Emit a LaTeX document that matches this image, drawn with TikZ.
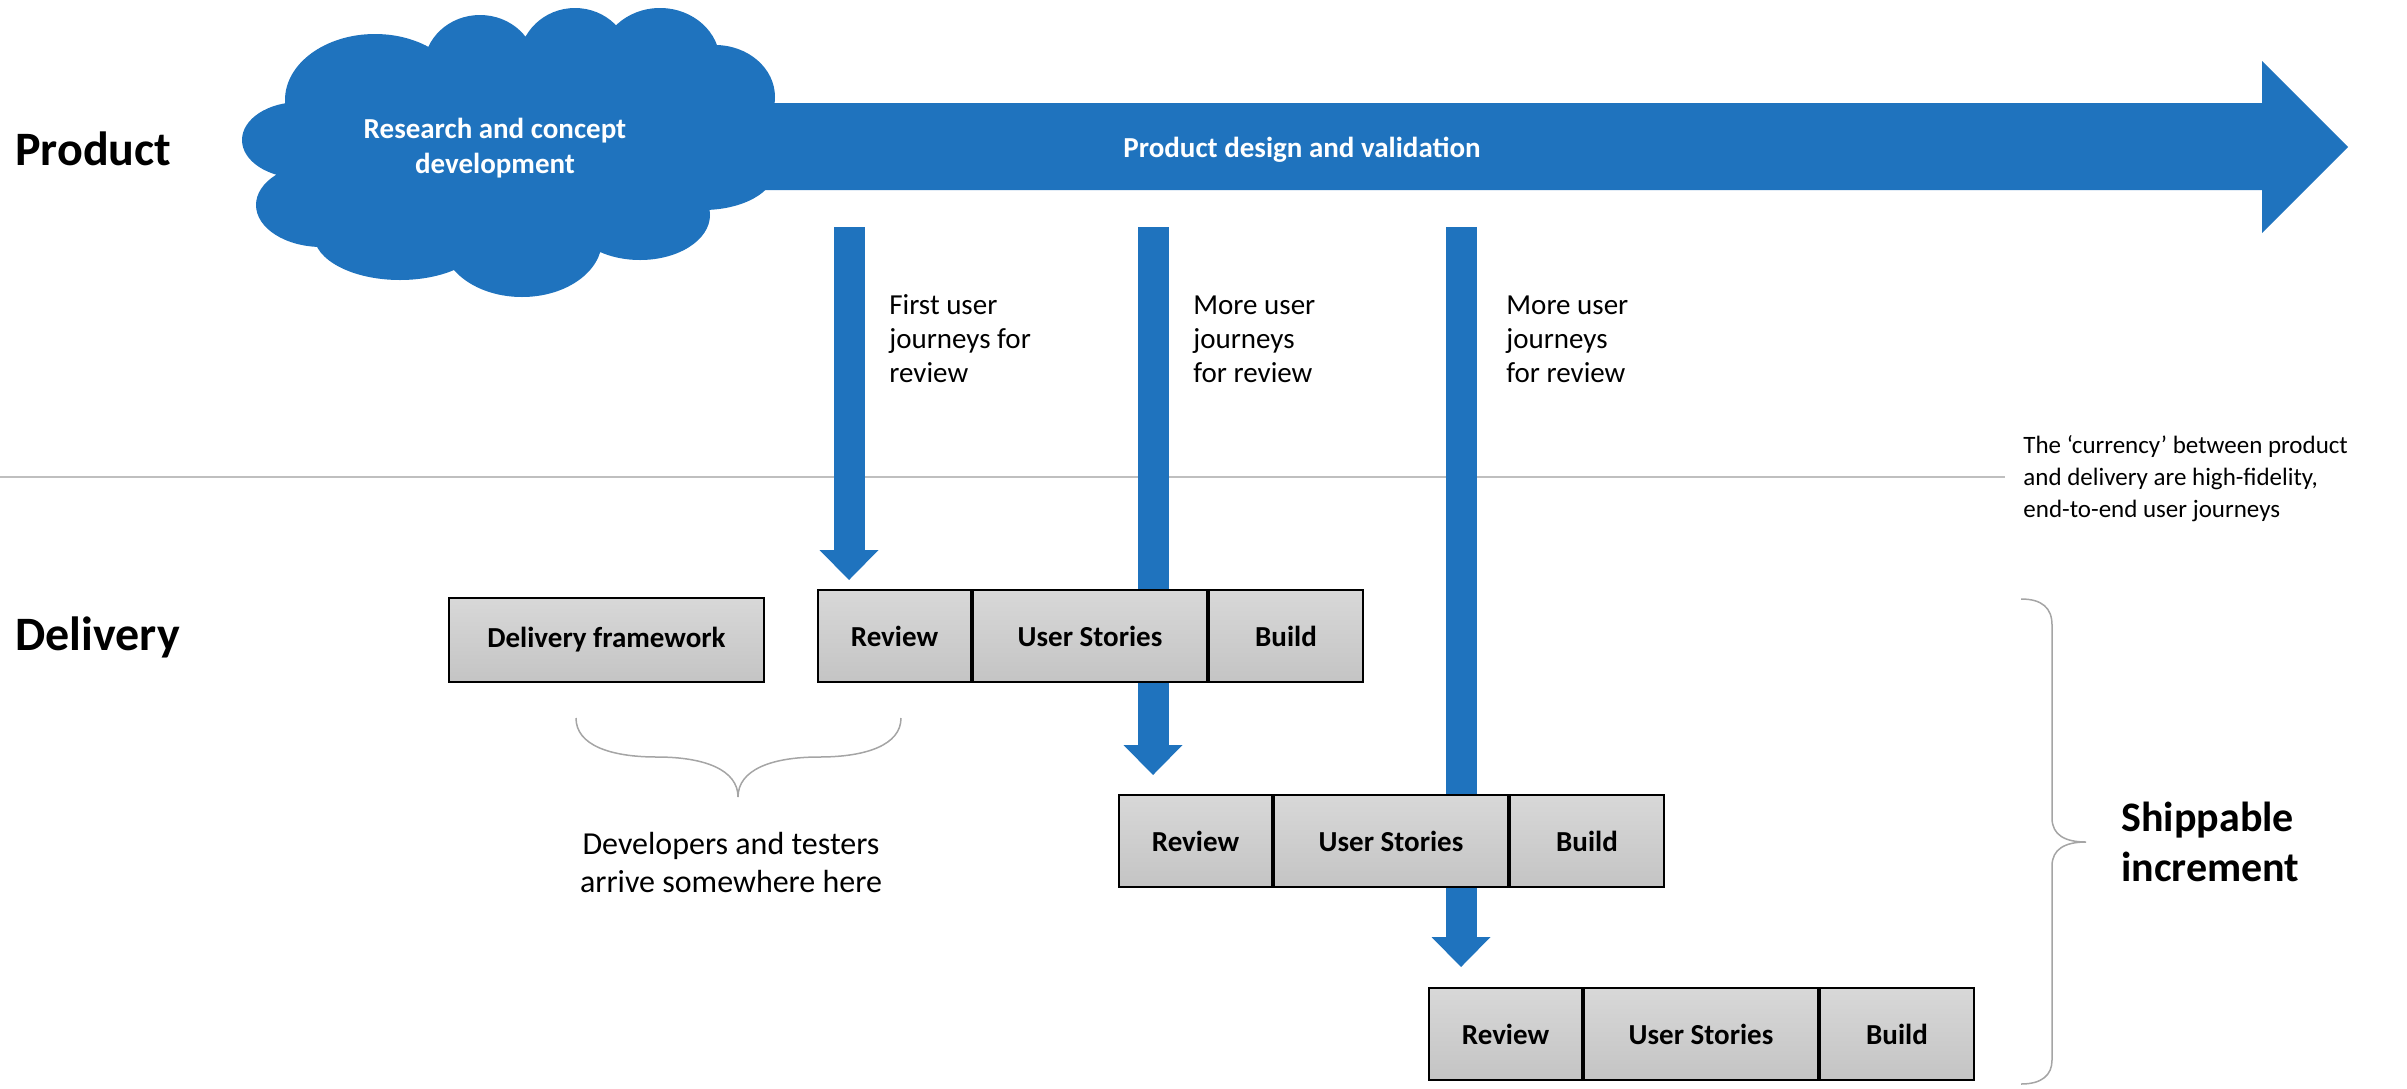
\documentclass[tikz,border=0pt]{standalone}
\usepackage{fontspec}
\setmainfont{Carlito}
\usetikzlibrary{arrows.meta,calc}
\definecolor{pblue}{RGB}{31,115,190}
\definecolor{lgray}{RGB}{191,191,191}
\definecolor{bgray}{RGB}{165,165,165}
\definecolor{celltop}{RGB}{216,216,216}
\definecolor{cellbot}{RGB}{196,196,196}
\tikzset{
  cell/.style={draw=black, line width=1pt, top color=celltop, bottom color=cellbot,
    minimum height=46pt, inner sep=0pt, font=\bfseries\fontsize{14.5}{17}\selectfont},
  rev/.style={cell, minimum width=76.5pt},
  stor/.style={cell, minimum width=117pt},
  bld/.style={cell, minimum width=77pt},
  varrow/.style={draw=pblue, line width=15.5pt,
    -{Triangle[width=29.5pt,length=15pt,line width=0pt]}},
  bracestyle/.style={draw=bgray, line width=0.75pt},
  sidelabel/.style={font=\bfseries\fontsize{24}{28}\selectfont, anchor=west, inner sep=0pt},
  arrowlabel/.style={font=\fontsize{14.5}{17}\selectfont, anchor=west, align=left, inner sep=0pt},
  whitelabel/.style={font=\bfseries\fontsize{14.5}{17.5}\selectfont, text=white, align=center, inner sep=0pt}
}
\begin{document}
\begin{tikzpicture}[x=0.5pt,y=-0.5pt]
\useasboundingbox (0,0) rectangle (2407,1088);

% separator line
\draw[lgray, line width=0.75pt] (0,477) -- (2005,477);

% main arrow
\coordinate (mstart) at (700,103);
\fill[pblue] (mstart) -- (2262,103) -- (2262,61) -- (2348,147) -- (2262,233) -- (2262,190) -- (700,190) -- cycle;

% cloud
\fill[pblue]
  (300,140) ellipse [x radius=29pt, y radius=19pt]
  (322,205) ellipse [x radius=33pt, y radius=21pt]
  (400,235) ellipse [x radius=43pt, y radius=22.5pt]
  (522,240) ellipse [x radius=40pt, y radius=28.5pt]
  (640,215) ellipse [x radius=35pt, y radius=22.5pt]
  (703,170) ellipse [x radius=36pt, y radius=20pt]
  (715,97) ellipse [x radius=30pt, y radius=26pt]
  (660,62) ellipse [x radius=30pt, y radius=27pt]
  (575,62) ellipse [x radius=28pt, y radius=27pt]
  (480,67) ellipse [x radius=28pt, y radius=26pt]
  (375,100) ellipse [x radius=45pt, y radius=33pt]
  (510,155) ellipse [x radius=110pt, y radius=50pt];

\node[whitelabel] (cloudtxt) at (495,148) {Research and concept\\development};
\node[whitelabel] (pdv) at (1302,150) {Product design and validation};

% side labels
\node[sidelabel] (product) at (15,149) {Product};
\node[sidelabel] (delivery) at (15,637) {Delivery};

% vertical arrows
\coordinate (a1top) at (849,227);
\coordinate (a1tip) at (849,580);
\coordinate (a2top) at (1153,227);
\coordinate (a2tip) at (1153,775);
\coordinate (a3top) at (1461,227);
\coordinate (a3tip) at (1461,967);
\draw[varrow] (a1top) -- (a1tip);
\draw[varrow] (a2top) -- (a2tip);
\draw[varrow] (a3top) -- (a3tip);

\node[arrowlabel] (l1) at (889,339) {First user\\journeys for\\review};
\node[arrowlabel] (l2) at (1193,339) {More user\\journeys\\for review};
\node[arrowlabel] (l3) at (1506,339) {More user\\journeys\\for review};

% delivery framework
\node[cell, minimum width=157.5pt, minimum height=42pt, anchor=north west] (df) at (448,597) {Delivery framework};

% row 1
\node[rev, anchor=north west] (r1a) at (817,589) {Review};
\node[stor, anchor=west] (r1b) at (r1a.east) {User Stories};
\node[bld, anchor=west] (r1c) at (r1b.east) {Build};
% row 2
\node[rev, anchor=north west] (r2a) at (1118,794) {Review};
\node[stor, anchor=west] (r2b) at (r2a.east) {User Stories};
\node[bld, anchor=west] (r2c) at (r2b.east) {Build};
% row 3
\node[rev, anchor=north west] (r3a) at (1428,987) {Review};
\node[stor, anchor=west] (r3b) at (r3a.east) {User Stories};
\node[bld, anchor=west] (r3c) at (r3b.east) {Build};

% bottom brace
\draw[bracestyle] (576,718) .. controls (576,745) and (610,757) .. (657,757)
  .. controls (705,757) and (738,770) .. (738,797)
  .. controls (738,770) and (771,757) .. (819,757)
  .. controls (866,757) and (901,745) .. (901,718);
\node[font=\fontsize{16}{19}\selectfont, align=center, inner sep=0pt] (devs) at (731,862)
  {Developers and testers\\arrive somewhere here};

% right brace
\draw[bracestyle] (2021,599) .. controls (2042,599) and (2052,608) .. (2052,625) -- (2052,818)
  .. controls (2052,835) and (2065,842) .. (2086,842)
  .. controls (2065,842) and (2052,849) .. (2052,866) -- (2052,1060)
  .. controls (2052,1075) and (2042,1084) .. (2021,1084);

\node[font=\bfseries\fontsize{21}{25}\selectfont, align=left, anchor=west, inner sep=0pt] (ship) at (2121,842) {Shippable\\increment};

\node[font=\fontsize{12.5}{16}\selectfont, align=left, anchor=west, inner sep=0pt] (curr) at (2023,479)
  {The ‘currency’ between product\\and delivery are high-fidelity,\\end-to-end user journeys};
\end{tikzpicture}
\end{document}
